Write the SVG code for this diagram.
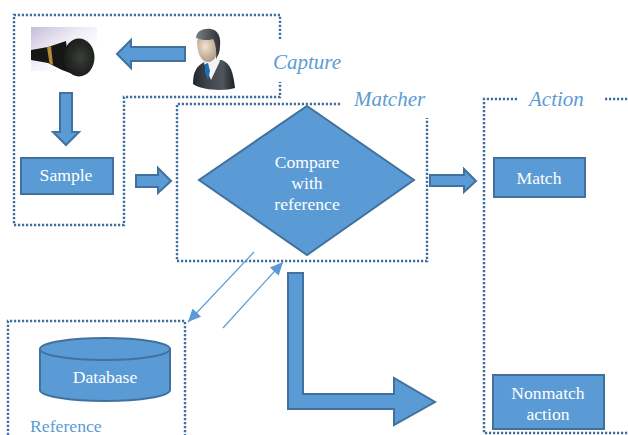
<svg xmlns="http://www.w3.org/2000/svg" width="628" height="435" viewBox="0 0 628 435">
<style>
.s{fill:#5b9bd5;stroke:#41719c;stroke-width:2}
.f{fill:none;stroke:#3f6f9e;stroke-width:2.4;stroke-dasharray:2.2 1.8}
.t{font-family:"Liberation Serif","Times New Roman",serif;font-size:17.6px;fill:#fff;text-anchor:middle}
.l{font-family:"Liberation Serif","Times New Roman",serif;fill:#5b9bd5;font-size:21px;font-style:italic}
.c{fill:none;stroke:#5b9bd5;stroke-width:1.2}
</style>
<defs>
<marker id="a" markerUnits="userSpaceOnUse" markerWidth="14" markerHeight="12" refX="13" refY="6" orient="auto"><path d="M0 0L13 6L0 12z" fill="#5b9bd5"/></marker>
<filter id="b" x="-5%" y="-5%" width="110%" height="110%"><feGaussianBlur stdDeviation="0.6"/></filter>
<linearGradient id="bg" x1="0" y1="0" x2="0.9" y2="0.9"><stop offset="0" stop-color="#c4bdd8"/><stop offset="0.45" stop-color="#efecf6"/><stop offset="0.8" stop-color="#fff"/></linearGradient>
<linearGradient id="jk" x1="0" y1="0" x2="1" y2="0"><stop offset="0" stop-color="#23272b"/><stop offset="0.35" stop-color="#3f454b"/><stop offset="0.7" stop-color="#50565c"/><stop offset="1" stop-color="#1c1f22"/></linearGradient>
<linearGradient id="hr" x1="0" y1="0" x2="1" y2="0"><stop offset="0" stop-color="#7a8187"/><stop offset="1" stop-color="#2b3034"/></linearGradient>
<radialGradient id="fc" cx="0.4" cy="0.4" r="0.7"><stop offset="0" stop-color="#f1e2cf"/><stop offset="1" stop-color="#a8917a"/></radialGradient>
<radialGradient id="mh" cx="0.55" cy="0.5" r="0.55"><stop offset="0" stop-color="#3a3f3a"/><stop offset="1" stop-color="#191b19"/></radialGradient>
</defs>

<g id="capture-frame"><path class="f" d="M280 39V15H14V225H124V97H280V82"/><text class="l" x="273" y="69">Capture</text></g>
<g id="matcher-frame"><path class="f" d="M340 104H177V261H427V118"/><text class="l" x="354" y="106">Matcher</text></g>
<g id="action-frame"><path class="f" d="M517 99H484V433H628M605 99H628"/><text class="l" x="529" y="106">Action</text></g>
<g id="reference-frame"><path class="f" d="M8 435V321H185V435"/><text x="30" y="432" font-family="Liberation Serif, serif" font-size="17.7" fill="#5b9bd5">Reference</text></g>

<g id="microphone" filter="url(#b)">
<rect x="31" y="27" width="66" height="44" fill="url(#bg)"/>
<path d="M31 50L48 47L66 41L70 73L62 70L48 63L31 60z" fill="#141414"/>
<path d="M47 47.5L51 46L53 65L49.5 63.5z" fill="#b98a35"/>
<ellipse cx="79" cy="57.5" rx="15.5" ry="19" fill="url(#mh)"/>
</g>

<g id="person" filter="url(#b)">
<path d="M193 84C193 72 196 66 206 61L222 60C231 64 233 72 235 88C226 91 203 91 193 84z" fill="url(#jk)"/>
<path d="M204 63L211 80L220 61L214 55H208z" fill="#f4f4f4"/>
<path d="M205 64L208 63L210 71L208 80L205 72z" fill="#1f6fb5"/>
<path d="M197 41C197 53 201 62 208 62C215 62 218 54 218 44L216 36L200 36z" fill="url(#fc)"/>
<path d="M196 38C196 31 204 28 211 29C218 30 221 37 220 46C220 52 218 56 216 59C217 50 215 42 213 39C208 41 201 40 196 38z" fill="url(#hr)"/>
</g>

<g id="connectors">
<path class="s" d="M185 47H131V40L117 54L131 68V61H185z"/>
<path class="s" d="M60 93H72V132H79L66 145L53 132H60z"/>
<path class="s" d="M136 175H158V168L171 181L158 193V187H136z"/>
<path class="s" d="M430 175H464V169L476 181L464 192V186H430z"/>
<path class="s" d="M288 273H303V394H394V378L435 402L394 425V409H288z"/>
<line class="c" x1="254" y1="252" x2="188" y2="322" marker-end="url(#a)"/>
<line class="c" x1="223" y1="328" x2="283" y2="262" marker-end="url(#a)"/>
</g>

<g id="sample"><rect class="s" x="21" y="158" width="92" height="36"/><text class="t" x="66" y="181">Sample</text></g>
<g id="compare"><path class="s" d="M307 106L414 180L307 255L199 180z"/><text class="t" x="307" y="168">Compare</text><text class="t" x="307" y="189">with</text><text class="t" x="307" y="210">reference</text></g>
<g id="match"><rect class="s" x="494" y="158" width="91" height="39"/><text class="t" x="539" y="184">Match</text></g>
<g id="nonmatch"><rect class="s" x="493" y="375" width="111" height="54"/><text class="t" x="548" y="399">Nonmatch</text><text class="t" x="548" y="420">action</text></g>
<g id="database"><path class="s" d="M40 349V390A65 11 0 0 0 170 390V349z"/><ellipse class="s" cx="105" cy="349" rx="65" ry="11"/><text class="t" x="105" y="383">Database</text></g>
</svg>
